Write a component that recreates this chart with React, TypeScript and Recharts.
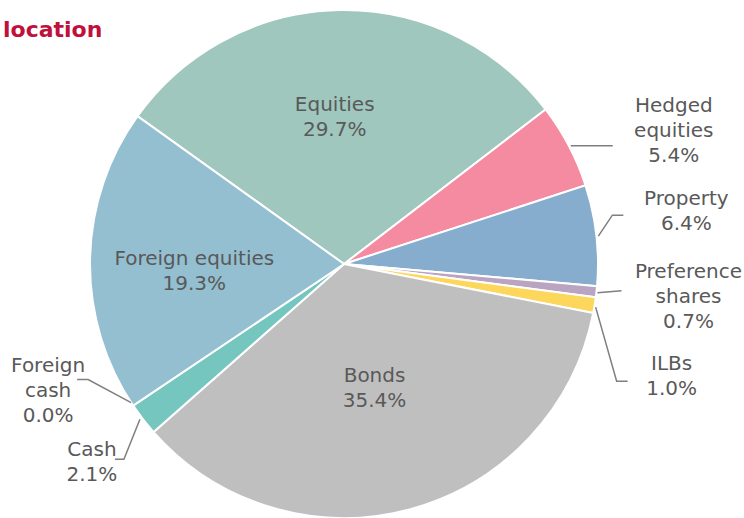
import { PieChart, Pie, Cell } from "recharts";

const NAMES = [
  "Equities",
  "Hedged equities",
  "Property",
  "Preference shares",
  "ILBs",
  "Bonds",
  "Cash",
  "Foreign cash",
  "Foreign equities",
];
const WEIGHTS = [29.7, 5.4, 6.4, 0.7, 1.0, 35.4, 2.1, 0.0, 19.3];
const COLORS = ["#9fc7bd", "#f48ba0", "#86adcd", "#b9a4c1", "#fdd65c", "#bfbfbf", "#75c6be", "#8fb7c9", "#93bfd0"];

// label lines (split names onto rows as in the original)
const LABEL_ROWS: Record<string, string[]> = {
  "Hedged equities": ["Hedged", "equities"],
  "Preference shares": ["Preference", "shares"],
  "Foreign cash": ["Foreign", "cash"],
};

// inside labels: nudge from a point at 0.55 * radius
const INSIDE: Record<string, [number, number]> = {
  Equities: [-7, -13],
  "Foreign equities": [-10, 3],
  Bonds: [-6, -17],
};

// outside labels: leader points and text anchor, relative to the slice edge
const OUTSIDE: Record<string, { pts: [number, number][]; text: [number, number] }> = {
  "Hedged equities": { pts: [[2, 0], [44, 0]], text: [105, -34] },
  Property: { pts: [[2, 1], [16, -20], [27, -20]], text: [90, -30] },
  "Preference shares": { pts: [[1, 1], [25, -1]], text: [92, -14] },
  ILBs: { pts: [[1, 2], [22, 76], [33, 76]], text: [77, 65] },
  Cash: { pts: [[-3, 0], [-19, 40], [-28, 40]], text: [-51, 37] },
  "Foreign cash": { pts: [[-2, -3], [-45, -26], [-56, -26]], text: [-85, -34] },
};

const data = NAMES.map((name, i) => ({ name, value: WEIGHTS[i] }));

const RAD = Math.PI / 180;
const FONT = "DejaVu Sans, Verdana, sans-serif";
const TEXT_COLOR = "#595959";

function renderLabel(props: any) {
  const { cx, cy, midAngle, outerRadius, name, value } = props;
  const rows = [...(LABEL_ROWS[name] ?? [name]), `${Number(value).toFixed(1)}%`];
  const cos = Math.cos(-midAngle * RAD);
  const sin = Math.sin(-midAngle * RAD);

  let tx = 0;
  let ty = 0;
  let line: string | null = null;

  if (INSIDE[name]) {
    const r = outerRadius * 0.55;
    tx = cx + r * cos + INSIDE[name][0];
    ty = cy + r * sin + INSIDE[name][1];
  } else if (OUTSIDE[name]) {
    const ex = cx + outerRadius * cos;
    const ey = cy + outerRadius * sin;
    const cfg = OUTSIDE[name];
    line = cfg.pts.map(([dx, dy]) => `${ex + dx},${ey + dy}`).join(" ");
    tx = ex + cfg.text[0];
    ty = ey + cfg.text[1];
  } else {
    return null;
  }

  return (
    <g key={`lbl-${name}`}>
      {line && <polyline points={line} fill="none" stroke="#7f7f7f" strokeWidth={1.5} />}
      <text x={tx} y={ty} textAnchor="middle" fill={TEXT_COLOR} fontSize={20} fontFamily={FONT}>
        {rows.map((row, i) => (
          <tspan key={i} x={tx} dy={i === 0 ? 0 : 25}>
            {row}
          </tspan>
        ))}
      </text>
    </g>
  );
}

export default function App() {
  return (
    <div style={{ position: "absolute", left: 0, top: 0, width: 744, height: 518, background: "#fff" }}>
      <PieChart width={744} height={518} margin={{ top: 0, right: 0, bottom: 0, left: 0 }}>
        <Pie
          data={data}
          dataKey="value"
          nameKey="name"
          cx={344}
          cy={264}
          outerRadius={254}
          startAngle={144.4}
          endAngle={-215.6}
          stroke="#ffffff"
          strokeWidth={2}
          label={renderLabel}
          labelLine={false}
          isAnimationActive={false}
        >
          {data.map((d, i) => (
            <Cell key={d.name} fill={COLORS[i]} />
          ))}
        </Pie>
      </PieChart>
      <svg width={744} height={518} style={{ position: "absolute", left: 0, top: 0, pointerEvents: "none" }}>
        <text x={3} y={37} fill="#c0103c" fontSize={22} fontWeight="bold" fontFamily={FONT}>
          location
        </text>
      </svg>
    </div>
  );
}
